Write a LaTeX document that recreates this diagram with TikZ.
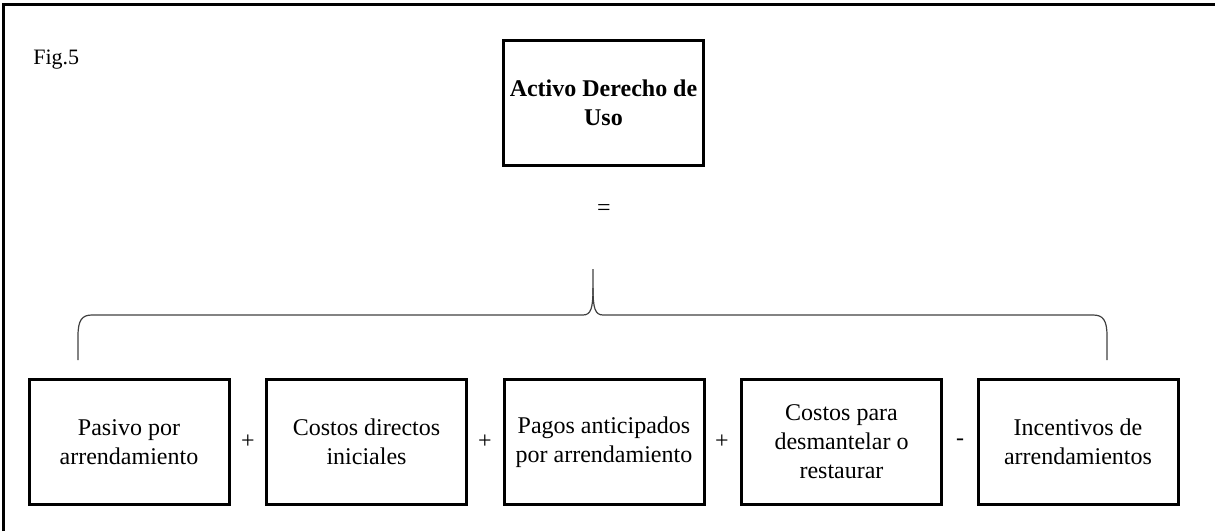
\documentclass[tikz,border=0pt]{standalone}
\usepackage{fontspec}
\setmainfont{Liberation Serif}
\begin{document}
\begin{tikzpicture}[x=0.5pt, y=-0.5pt, box node/.style={rectangle,draw,line width=1.5pt,minimum width=100pt,minimum height=62.5pt,inner sep=0pt,align=center,font=\fontsize{12}{14.5}\selectfont}, op node/.style={inner sep=1pt,font=\fontsize{12}{14.5}\selectfont}]
\useasboundingbox (0,0) rectangle (1215,531);
% frame
\coordinate (fbl) at (3,531);
\coordinate (ftr) at (1215,4);
\draw[line width=1.5pt] (fbl) |- (ftr);
\node[anchor=base west,inner sep=0pt,font=\fontsize{11}{13}\selectfont] (fig) at (33,64) {Fig.5};
\begin{scope}
\node[box node,font=\fontsize{12}{14.5}\selectfont\bfseries] (act) at (603.5,102.5) {Activo Derecho de\\Uso};
\node[op node] (eq) at (604,210) {=};
\node[box node] (b1) at (129,442) {Pasivo por\\arrendamiento};
\node[box node] (b2) at (366.5,442) {Costos directos\\iniciales};
\node[box node] (b3) at (604,442) {Pagos anticipados\\por arrendamiento};
\node[box node] (b4) at (841.5,442) {Costos para\\desmantelar o\\restaurar};
\node[box node] (b5) at (1078,442) {Incentivos de\\arrendamientos};
\node[op node] (p1) at (248,442) {+};
\node[op node] (p2) at (485,442) {+};
\node[op node] (p3) at (722,442) {+};
\node[op node] (m1) at (960,442) {-};
\end{scope}
% brace
\begin{scope}[line width=0.6pt, black!75]
\coordinate (bl) at (78,360);
\coordinate (br) at (1107,360);
\coordinate (tip) at (593,269);
\draw (tip) -- ++(0,19) .. controls +(0,20) and +(8,0) .. ++(-10,27) -- (92,315) .. controls (82,315) and (78,320) .. (78,336) -- (bl);
\draw (tip) ++(0,19) .. controls +(0,20) and +(-8,0) .. ++(10,27) -- (1093,315) .. controls (1103,315) and (1107,320) .. (1107,336) -- (br);
\end{scope}
\end{tikzpicture}
\end{document}
